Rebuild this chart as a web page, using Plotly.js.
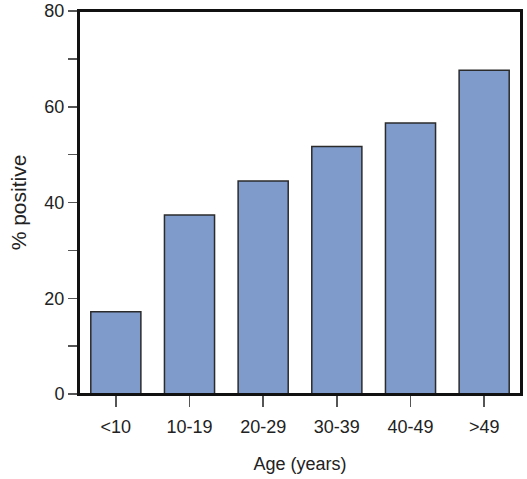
<!DOCTYPE html>
<html>
<head>
<meta charset="utf-8">
<script src="https://cdn.plot.ly/plotly-3.0.1.min.js"></script>
<style>
  html, body { margin: 0; padding: 0; background: #fff; }
  #chart { width: 527px; height: 479px; }
</style>
</head>
<body>
<div id="chart"></div>
<script>
// Share of positive results by age group
const ageGroups = ['<10', '10-19', '20-29', '30-39', '40-49', '>49'];
const percentPositive = [17.2, 37.4, 44.5, 51.7, 56.6, 67.6];
const yTickValues = [0, 20, 40, 60, 80];

const sans = '"Liberation Sans", Arial, Helvetica, sans-serif';
const textColor = '#222222';

const trace = {
  type: 'bar',
  x: ageGroups,
  y: percentPositive,
  marker: {
    color: '#7f9bcc',
    line: { color: '#2b2b2b', width: 1.5 }
  },
  hoverinfo: 'x+y'
};

const layout = {
  width: 527,
  height: 479,
  margin: { l: 79, r: 6, t: 11, b: 85 },
  paper_bgcolor: '#ffffff',
  plot_bgcolor: '#ffffff',
  bargap: 0.32,
  showlegend: false,
  font: { family: sans, size: 18, color: textColor },
  xaxis: {
    type: 'category',
    range: [-0.5, 5.5],
    showline: true,
    linecolor: '#111111',
    linewidth: 2,
    mirror: true,
    showgrid: false,
    zeroline: false,
    ticks: 'outside',
    ticklen: 11,
    tickwidth: 1.5,
    tickcolor: '#555555',
    tickfont: { family: sans, size: 18, color: textColor },
    ticklabelstandoff: 4,
    title: {
      text: 'Age (years)',
      font: { family: sans, size: 18, color: textColor },
      standoff: 22
    }
  },
  yaxis: {
    range: [0, 80],
    tickvals: yTickValues,
    showline: true,
    linecolor: '#111111',
    linewidth: 2,
    mirror: true,
    showgrid: false,
    zeroline: false,
    ticks: 'outside',
    ticklen: 9,
    tickwidth: 1.5,
    tickcolor: '#555555',
    tickfont: { family: sans, size: 18, color: textColor },
    ticklabelstandoff: 0,
    ticklabeloverflow: 'allow',
    minor: {
      dtick: 10,
      ticks: 'outside',
      ticklen: 9,
      tickwidth: 1.5,
      tickcolor: '#555555',
      showgrid: false
    },
    title: {
      text: '% positive',
      font: { family: sans, size: 21, color: textColor },
      standoff: 12
    }
  },
  // frame around the plotting area
  shapes: [{
    type: 'rect',
    xref: 'paper', yref: 'paper',
    x0: 0, x1: 1, y0: 0, y1: 1,
    line: { color: '#111111', width: 2 },
    fillcolor: 'rgba(0,0,0,0)',
    layer: 'above'
  }]
};

Plotly.newPlot('chart', [trace], layout, { displayModeBar: false, staticPlot: true });
</script>
</body>
</html>
